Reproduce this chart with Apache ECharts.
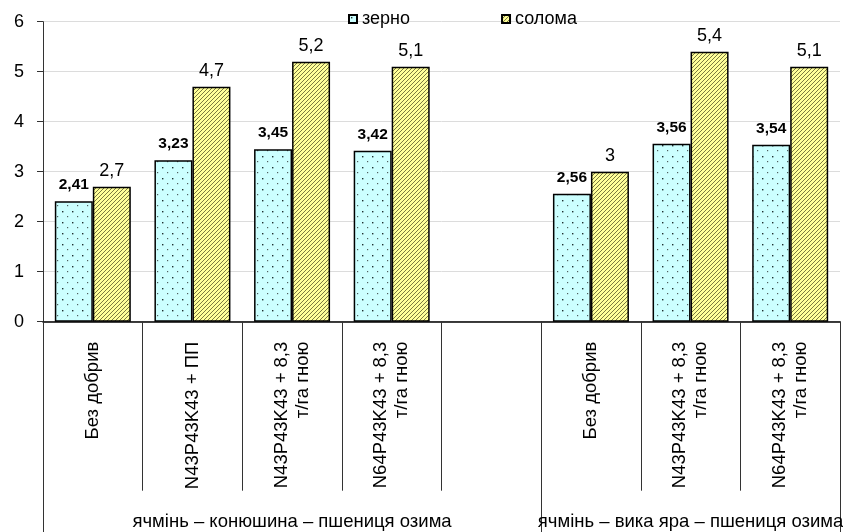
<!DOCTYPE html>
<html>
<head>
<meta charset="utf-8">
<script src="https://cdn.jsdelivr.net/npm/echarts@6/dist/echarts.min.js"></script>
<style>
html,body{margin:0;padding:0;background:#fff;}
#chart{width:843px;height:532px;}
</style>
</head>
<body>
<div id="chart"></div>
<script>
const categories = ['Без добрив', 'N43P43K43 + ПП', 'N43P43K43 + 8,3\nт/га гною', 'N64P43K43 + 8,3\nт/га гною', '', 'Без добрив', 'N43P43K43 + 8,3\nт/га гною', 'N64P43K43 + 8,3\nт/га гною'];
const grainValues = [2.41, 3.23, 3.45, 3.42, '-', 2.56, 3.56, 3.54];
const strawValues = [2.7, 4.7, 5.2, 5.1, '-', 3, 5.4, 5.1];
const seriesNames = ['зерно', 'солома'];
const groupNames = ['ячмінь – конюшина – пшениця озима', 'ячмінь – вика яра – пшениця озима'];
const groupSizes = [5, 3];
const yTicks = [0, 1, 2, 3, 4, 5, 6];

const FONT = 'Arial, "Liberation Sans", sans-serif';

function dotPattern() {
  const c = document.createElement('canvas');
  c.width = 10; c.height = 11;
  const g = c.getContext('2d');
  g.fillStyle = '#ccffff';
  g.fillRect(0, 0, 10, 11);
  g.fillStyle = '#203030';
  g.fillRect(2, 2, 1.4, 1.4);
  g.fillStyle = '#506060';
  g.fillRect(7, 7, 1.2, 1.2);
  return c;
}
function stripePattern() {
  const c = document.createElement('canvas');
  c.width = 4; c.height = 4;
  const g = c.getContext('2d');
  g.fillStyle = '#ffff99';
  g.fillRect(0, 0, 4, 4);
  g.strokeStyle = '#6b6b35';
  g.lineWidth = 0.9;
  g.beginPath();
  g.moveTo(-1, 5); g.lineTo(5, -1);
  g.moveTo(-1, 1); g.lineTo(1, -1);
  g.moveTo(3, 5); g.lineTo(5, 3);
  g.stroke();
  return c;
}

// group boundary indices and label positions from group sizes
const groupStarts = [];
const groupLabels = categories.map(() => '');
let s = 0;
groupSizes.forEach((n, i) => {
  groupStarts.push(s);
  groupLabels[s + Math.floor(n / 2)] = groupNames[i];
  s += n;
});

const fmt = p => String(p.value).replace('.', ',');

const chart = echarts.init(document.getElementById('chart'));
chart.setOption({
  animation: false,
  backgroundColor: '#ffffff',
  textStyle: { fontFamily: FONT },
  legend: {
    left: 343,
    top: 5,
    itemWidth: 8,
    itemHeight: 8,
    itemGap: 91,
    icon: 'rect',
    textStyle: { fontFamily: FONT, fontSize: 18, color: '#000' },
    data: seriesNames
  },
  grid: { left: 43, right: 3, top: 21.7, bottom: 210.3, containLabel: false, outerBoundsMode: 'none' },
  xAxis: [
    {
      type: 'category',
      data: categories,
      position: 'bottom',
      axisLine: { show: true, lineStyle: { color: '#000', width: 1.5 } },
      axisTick: { show: true, interval: 0, length: 169, lineStyle: { color: '#333', width: 1 } },
      axisLabel: {
        interval: 0, rotate: 90, margin: 20,
        fontFamily: FONT, fontSize: 18.5, lineHeight: 21, color: '#000'
      },
      splitLine: { show: false }
    },
    {
      type: 'category',
      data: groupLabels,
      position: 'bottom',
      axisLine: { show: false },
      axisTick: {
        show: true, length: 211,
        interval: (idx) => groupStarts.indexOf(idx) >= 0,
        lineStyle: { color: '#333', width: 1 }
      },
      axisLabel: {
        interval: 0, margin: 191,
        fontFamily: FONT, fontSize: 18.5, color: '#000'
      },
      splitLine: { show: false }
    }
  ],
  yAxis: {
    type: 'value',
    min: yTicks[0],
    max: yTicks[yTicks.length - 1],
    interval: 1,
    axisLine: { show: true, lineStyle: { color: '#333', width: 1 } },
    axisTick: { show: true, length: 6, lineStyle: { color: '#333' } },
    axisLabel: { fontFamily: FONT, fontSize: 18, color: '#000', margin: 19 },
    splitLine: { show: true, lineStyle: { color: '#dcdcdc', width: 1 } }
  },
  series: [
    {
      name: seriesNames[0],
      type: 'bar',
      xAxisIndex: 0,
      data: grainValues,
      barWidth: 38,
      barGap: '0%',
      itemStyle: { color: { image: dotPattern(), repeat: 'repeat' }, borderColor: '#000', borderWidth: 1.5 },
      label: {
        show: true, position: 'top', distance: 8, formatter: fmt,
        fontFamily: FONT, fontSize: 15.5, fontWeight: 'bold', color: '#000'
      }
    },
    {
      name: seriesNames[1],
      type: 'bar',
      xAxisIndex: 0,
      data: strawValues,
      barWidth: 38,
      barGap: '0%',
      itemStyle: { color: { image: stripePattern(), repeat: 'repeat' }, borderColor: '#000', borderWidth: 1.5 },
      label: {
        show: true, position: 'top', distance: 7, formatter: fmt,
        fontFamily: FONT, fontSize: 18, color: '#000'
      }
    }
  ]
});
</script>
</body>
</html>
